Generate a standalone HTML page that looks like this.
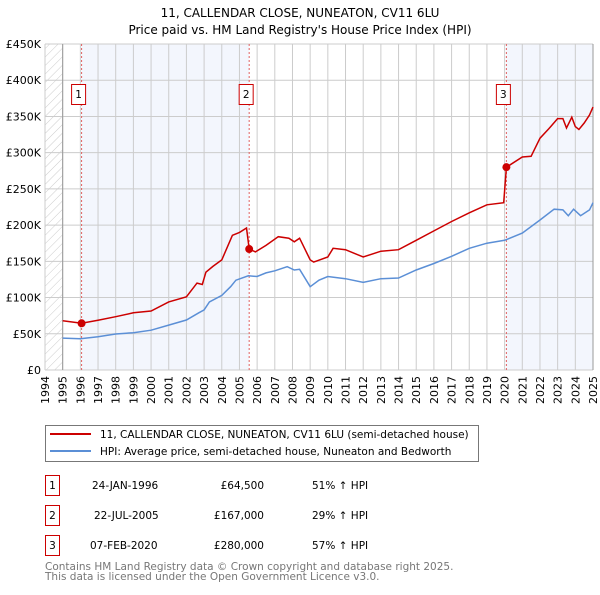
<!DOCTYPE html>
<html><head><meta charset="utf-8"><style>
body{margin:0;background:#fff}
svg text{font-family:"DejaVu Sans","Liberation Sans",sans-serif}
</style></head><body>
<svg id="c" width="600" height="590" xmlns="http://www.w3.org/2000/svg">
<text x="300" y="17" text-anchor="middle" font-size="12" fill="#000">11, CALLENDAR CLOSE, NUNEATON, CV11 6LU</text>
<text x="300" y="34" text-anchor="middle" font-size="12" fill="#000">Price paid vs. HM Land Registry's House Price Index (HPI)</text>
<defs><pattern id="hatch" width="6" height="6" patternUnits="userSpaceOnUse" patternTransform="rotate(45)"><line x1="0" y1="0" x2="0" y2="6" stroke="#ccc" stroke-width="1"/></pattern></defs>
<g id="plot"></g>
<g>
<rect x="45.5" y="425.5" width="433" height="36" fill="#fff" stroke="#777"/>
<line x1="50" y1="434" x2="91" y2="434" stroke="#cc0000" stroke-width="2"/>
<text x="100" y="438" font-size="10.5">11, CALLENDAR CLOSE, NUNEATON, CV11 6LU (semi-detached house)</text>
<line x1="50" y1="451" x2="91" y2="451" stroke="#5b8fd6" stroke-width="2"/>
<text x="100" y="455" font-size="10.5">HPI: Average price, semi-detached house, Nuneaton and Bedworth</text>
</g>
<g font-size="10.5">
<rect x="45.5" y="475.5" width="14" height="20" fill="#fff" stroke="#cc0000"/><text x="52.5" y="489" text-anchor="middle">1</text>
<text x="92" y="489">24-JAN-1996</text><text x="264" y="489" text-anchor="end">£64,500</text><text x="312" y="489">51% ↑ HPI</text>
<rect x="45.5" y="505.5" width="14" height="20" fill="#fff" stroke="#cc0000"/><text x="52.5" y="519" text-anchor="middle">2</text>
<text x="94" y="519">22-JUL-2005</text><text x="264" y="519" text-anchor="end">£167,000</text><text x="312" y="519">29% ↑ HPI</text>
<rect x="45.5" y="535.5" width="14" height="20" fill="#fff" stroke="#cc0000"/><text x="52.5" y="549" text-anchor="middle">3</text>
<text x="90" y="549">07-FEB-2020</text><text x="264" y="549" text-anchor="end">£280,000</text><text x="312" y="549">57% ↑ HPI</text>
</g>
<text x="45" y="570" font-size="10.5" fill="#777">Contains HM Land Registry data © Crown copyright and database right 2025.</text>
<text x="45" y="580" font-size="10.5" fill="#777">This data is licensed under the Open Government Licence v3.0.</text>
</svg>
<script>
const yearTicks=[1994,1995,1996,1997,1998,1999,2000,2001,2002,2003,2004,2005,2006,2007,2008,2009,2010,2011,2012,2013,2014,2015,2016,2017,2018,2019,2020,2021,2022,2023,2024,2025];
const valueTicks=[0,50,100,150,200,250,300,350,400,450];
const valueTickLabels=["£0","£50K","£100K","£150K","£200K","£250K","£300K","£350K","£400K","£450K"];
const saleYears=[1996.07,2005.55,2020.1];
const salePrices=[64.5,167,280];
const saleLabels=["1","2","3"];
const propYears=[1995,1996.07,1997,1998,1999,2000,2001,2002,2002.6,2002.9,2003.1,2003.5,2004,2004.6,2005,2005.4,2005.55,2005.9,2006.5,2007.2,2007.8,2008.1,2008.4,2009,2009.2,2010,2010.3,2011,2012,2013,2014,2015,2016,2017,2018,2019,2019.95,2020.1,2021,2021.5,2022,2022.5,2023,2023.3,2023.5,2023.8,2024,2024.2,2024.5,2024.8,2025];
const propValues=[68,64.5,68.6,73.6,79,81.4,94,101,120,118,135,143,152,186,190,196,167,163,172,184,182,177,182,152,149,156,168,166,156,164,166,179,192,205,217,228,231,280,294,295,320,333,347,347,334,349,336,332,341,352,363];
const hpiYears=[1995,1996,1997,1998,1999,2000,2001,2002,2002.7,2003,2003.3,2004,2004.5,2004.8,2005.5,2006,2006.5,2007,2007.7,2008.1,2008.4,2009,2009.5,2010,2011,2012,2013,2014,2015,2016,2017,2018,2019,2020,2021,2022,2022.8,2023.3,2023.6,2023.9,2024.3,2024.8,2025];
const hpiValues=[44,43,46,49.7,51.5,55,62,69,79,83,94,103,115,124,130,129,134,137,142.6,138,139,115,124,129,126,121,126,127,138,147,157,168,175,179,189,207,222,221,213,222,213,221,231];

const L=45,R=593,T=44,B=370;
const xs=y=>L+(y-1994)/31*(R-L);
const ys=v=>B-v/450*(B-T);
const NS="http://www.w3.org/2000/svg";
const g=document.getElementById('plot');
function mk(t,a){const e=document.createElementNS(NS,t);for(const k in a)e.setAttribute(k,a[k]);g.appendChild(e);return e;}
let e;
e=mk('rect',{x:L,y:T,width:R-L,height:B-T,fill:'#fff'});


e=mk('rect',{x:L,y:T,width:xs(1995)-L,height:B-T,fill:'url(#hatch)'});


e=mk('rect',{x:xs(saleYears[0]),y:T,width:xs(saleYears[1])-xs(saleYears[0]),height:B-T,fill:'#f3f6fd'});


e=mk('rect',{x:xs(saleYears[2]),y:T,width:R-xs(saleYears[2]),height:B-T,fill:'#f3f6fd'});


yearTicks.forEach(y=>{
 e=mk('line',{x1:xs(y),y1:T,x2:xs(y),y2:B,stroke:'#ccc','stroke-width':1});
 
 
 e=mk('text',{x:0,y:0,transform:`translate(${xs(y)+4},376) rotate(-90)`,'text-anchor':'end','font-size':'11'});
 e.textContent=y;
 
 
});
valueTicks.forEach((v,i)=>{
 e=mk('line',{x1:L,y1:ys(v),x2:R,y2:ys(v),stroke:'#ccc','stroke-width':1});
 
 
 e=mk('text',{x:L-4,y:ys(v)+4,'text-anchor':'end','font-size':'11'});
 e.textContent=valueTickLabels[i];
 
 
});
e=mk('line',{x1:xs(1995),y1:T,x2:xs(1995),y2:B,stroke:'#999','stroke-width':1});


e=mk('line',{x1:R,y1:T,x2:R,y2:B,stroke:'#999','stroke-width':1});


saleYears.forEach((y,i)=>{
 e=mk('line',{x1:xs(y),y1:T,x2:xs(y),y2:B,stroke:'#e06060','stroke-width':1,'stroke-dasharray':'2,2'});
 
 
 e=mk('rect',{x:xs(y)-10,y:84.5,width:14,height:20,fill:'#fff',stroke:'#cc0000'});
 
 
 e=mk('text',{x:xs(y)-3,y:98,'text-anchor':'middle','font-size':'10.5'});
 e.textContent=saleLabels[i];
 
 
});
function path(xv,yv){return xv.map((x,i)=>(i?'L':'M')+xs(x).toFixed(1)+','+ys(yv[i]).toFixed(1)).join('');}
e=mk('path',{d:path(hpiYears,hpiValues),fill:'none',stroke:'#5b8fd6','stroke-width':1.5});


e=mk('path',{d:path(propYears,propValues),fill:'none',stroke:'#cc0000','stroke-width':1.5});


saleYears.forEach((y,i)=>{
 e=mk('circle',{cx:xs(y),cy:ys(salePrices[i]),r:4,fill:'#cc0000'});
 
 
});
</script>
</body></html>
